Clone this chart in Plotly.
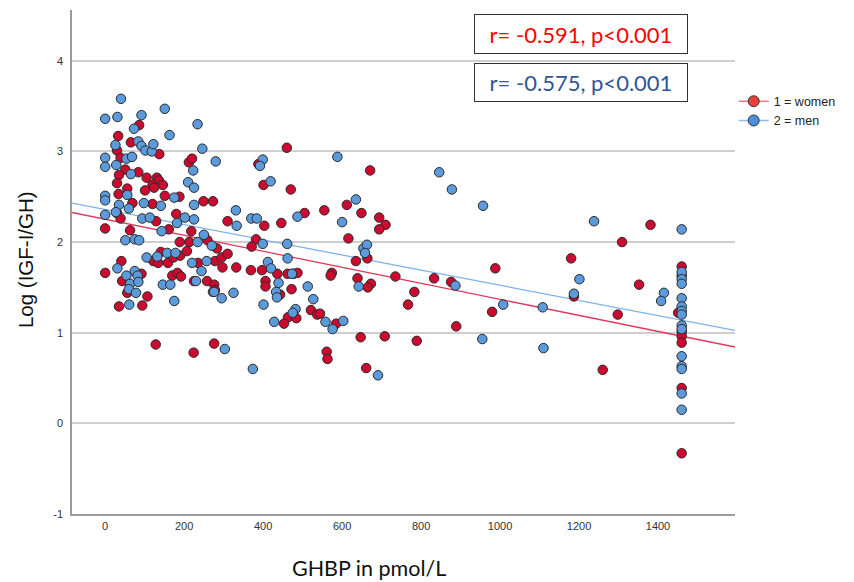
import plotly.graph_objects as go
import numpy as np

# ---- data (GHBP in pmol/L, Log(IGF-I/GH)) ----
women_x = [86, 33, 65, 30, 137, 39, 212, 220, 51, 84, 35, 105, 131, 136, 30, 120, 146, 56, 101, 124,
           34, 151, 188, 69, 120, 249, 273, 30, 39, 129, 180, 0, 63, 161, 218, 189, 213, 259, 122, 134,
           141, 159, 173, 190, 207, 235, 278, 41, 0, 43, 92, 56, 107, 35, 94, 170, 183, 192, 225, 258,
           276, 128, 224, 276, 460, 388, 401, 470, 310, 403, 446, 505, 555, 612, 616, 382, 371, 283, 295, 310,
           297, 332, 369, 397, 436, 462, 477, 487, 574, 571, 406, 406, 472, 443, 278, 521, 537, 463, 484, 453,
           585, 561, 563, 671, 649, 694, 710, 694, 664, 635, 735, 833, 876, 988, 1180, 639, 673, 665, 783, 767,
           980, 544, 889, 647, 708, 789, 661, 1381, 1309, 1187, 1352, 1298, 1451, 1260,
           1460, 1460, 1460, 1460, 1460, 1460, 1460]
women_y = [3.29, 3.17, 3.10, 3.01, 2.97, 2.93, 2.88, 2.92, 2.80, 2.77, 2.74, 2.71, 2.71, 2.68, 2.65, 2.63, 2.63, 2.59, 2.57, 2.60,
           2.53, 2.51, 2.50, 2.43, 2.42, 2.45, 2.45, 2.32, 2.26, 2.23, 2.31, 2.15, 2.13, 2.14, 2.12, 2.00, 2.00, 2.02, 1.79, 1.77,
           1.89, 1.77, 1.83, 1.85, 1.90, 1.77, 1.79, 1.79, 1.66, 1.57, 1.65, 1.44, 1.40, 1.29, 1.30, 1.63, 1.66, 1.62, 1.57, 1.57,
           1.53, 0.87, 0.78, 0.88, 3.04, 2.86, 2.63, 2.58, 2.23, 2.18, 2.21, 2.32, 2.35, 2.41, 2.04, 2.03, 1.95, 1.93, 1.83, 1.87,
           1.72, 1.72, 1.69, 1.69, 1.65, 1.65, 1.65, 1.66, 1.66, 1.63, 1.57, 1.51, 1.48, 1.42, 1.47, 1.25, 1.20, 1.17, 1.16, 1.10,
           1.10, 0.79, 0.71, 2.79, 2.32, 2.27, 2.19, 2.14, 1.82, 1.79, 1.62, 1.60, 1.56, 1.71, 1.82, 1.60, 1.54, 1.50, 1.45, 1.31,
           1.23, 1.21, 1.07, 0.95, 0.96, 0.91, 0.61, 2.19, 2.00, 1.40, 1.53, 1.20, 1.22, 0.59,
           1.73, 1.63, 1.01, 0.96, 0.89, 0.39, -0.33]

men_x = [40, 0, 31, 92, 151, 234, 73, 163, 84, 92, 102, 118, 122, 26, 246, 0, 0, 28, 54, 68,
         280, 223, 65, 210, 225, 0, 0, 56, 175, 35, 98, 141, 225, 0, 27, 60, 94, 113, 143, 182,
         202, 225, 51, 75, 86, 250, 234, 105, 132, 157, 178, 220, 244, 257, 31, 54, 75, 82, 63, 84,
         60, 78, 61, 146, 165, 175, 230, 273, 399, 392, 588, 419, 331, 333, 370, 384, 487, 600, 399, 461,
         462, 270, 412, 420, 473, 439, 513, 433, 435, 527, 276, 295, 325, 401, 482, 475, 428, 558, 576, 603,
         303, 374, 846, 878, 957, 635, 654, 663, 658, 887, 1201, 642, 1008, 1108, 1187, 955, 1110, 691, 1238, 1415,
         1408, 1460, 1460, 1460, 1460, 1460, 1460, 1460, 1460, 1460, 1460, 1460, 1460, 1460, 1460, 1460]
men_y = [3.58, 3.36, 3.38, 3.40, 3.47, 3.30, 3.25, 3.18, 3.11, 3.06, 3.01, 3.00, 3.08, 3.07, 3.03, 2.93, 2.83, 2.85, 2.92, 2.94,
         2.89, 2.79, 2.75, 2.66, 2.60, 2.51, 2.46, 2.52, 2.49, 2.41, 2.43, 2.40, 2.41, 2.30, 2.33, 2.37, 2.26, 2.27, 2.12, 2.21,
         2.27, 2.25, 2.02, 2.03, 2.02, 2.08, 2.00, 1.83, 1.84, 1.88, 1.88, 1.77, 1.68, 1.79, 1.71, 1.63, 1.68, 1.63, 1.54, 1.56,
         1.48, 1.44, 1.31, 1.53, 1.53, 1.35, 1.57, 1.45, 2.91, 2.84, 2.94, 2.67, 2.35, 2.18, 2.26, 2.26, 2.28, 2.22, 1.98, 1.98,
         1.82, 1.96, 1.78, 1.71, 1.65, 1.55, 1.51, 1.45, 1.39, 1.37, 1.45, 1.38, 1.44, 1.31, 1.26, 1.22, 1.12, 1.12, 1.04, 1.13,
         0.82, 0.60, 2.77, 2.58, 2.40, 2.47, 1.93, 1.97, 1.88, 1.52, 1.59, 1.51, 1.31, 1.28, 1.43, 0.93, 0.83, 0.53, 2.23, 1.44,
         1.35, 2.14, 1.67, 1.59, 1.54, 1.38, 1.29, 1.24, 1.20, 1.08, 1.04, 0.74, 0.63, 0.60, 0.33, 0.15]

# linear fits (intercept, slope)
women_fit = (2.252, -0.000884)
men_fit = (2.359, -0.000836)

x_range = [-84, 1595]
y_range = [-1, 4.56]
y_ticks = [-1, 0, 1, 2, 3, 4]
y_tick_labels = ["-1", "0", "1", "2", "3", "4"]
x_ticks = [0, 200, 400, 600, 800, 1000, 1200, 1400]

women_label = "1 = women"
men_label = "2 = men"
women_stat = "r= -0.591, p<0.001"
men_stat = "r= -0.575, p<0.001"

RED = "#cc0a2f"
BLUE = "#5b9bdb"
RED_LINE = "#e0385c"
BLUE_LINE = "#7eb3ea"

fig = go.Figure()

xl = np.array(x_range, dtype=float)
fig.add_trace(go.Scatter(x=xl, y=women_fit[0] + women_fit[1] * xl, mode="lines",
                         line=dict(color=RED_LINE, width=1.3), showlegend=False, hoverinfo="skip"))
fig.add_trace(go.Scatter(x=xl, y=men_fit[0] + men_fit[1] * xl, mode="lines",
                         line=dict(color=BLUE_LINE, width=1.3), showlegend=False, hoverinfo="skip"))

fig.add_trace(go.Scatter(x=women_x, y=women_y, mode="markers", showlegend=False,
                         marker=dict(color=RED, size=9.5, line=dict(color="#2a2a2a", width=1))))
fig.add_trace(go.Scatter(x=men_x, y=men_y, mode="markers", showlegend=False,
                         marker=dict(color=BLUE, size=9.5, line=dict(color="#2a2a2a", width=1))))

# legend entries
fig.add_trace(go.Scatter(x=[None], y=[None], mode="lines+markers", name=women_label,
                         line=dict(color="#f08080", width=1.3),
                         marker=dict(color="#e8413c", size=11, line=dict(color="#333", width=1))))
fig.add_trace(go.Scatter(x=[None], y=[None], mode="lines+markers", name=men_label,
                         line=dict(color="#8fbbe8", width=1.3),
                         marker=dict(color="#4a8fdc", size=11, line=dict(color="#333", width=1))))

# the page body adds an 8 px offset, so the figure is 8 px smaller in each direction
fig.update_layout(
    width=846, height=574,
    margin=dict(l=64, r=119, t=2, b=68),
    paper_bgcolor="white", plot_bgcolor="white",
    font=dict(family="Liberation Sans, Arial, sans-serif", color="#333"),
    legend=dict(x=0.998, y=0.848, xanchor="left", yanchor="top",
                font=dict(size=12.5, color="#222"), bgcolor="rgba(0,0,0,0)",
                tracegroupgap=0, itemwidth=30),
    xaxis=dict(range=x_range, tickvals=x_ticks, showgrid=False, zeroline=False,
               showline=True, linecolor="#9a9a9a", linewidth=1.5,
               ticks="outside", ticklen=1, tickcolor="rgba(0,0,0,0)",
               tickfont=dict(size=11, color="#333")),
    yaxis=dict(range=y_range, tickvals=y_ticks, ticktext=y_tick_labels,
               showgrid=True, gridcolor="#cfcfcf", gridwidth=1.5,
               zeroline=False, showline=True, linecolor="#9a9a9a", linewidth=1.5,
               ticks="outside", ticklen=5, tickcolor="rgba(0,0,0,0)",
               tickfont=dict(size=11, color="#333")),
    annotations=[
        dict(text="Log (IGF-I/GH)", xref="paper", yref="paper", x=-0.070, y=0.505,
             xanchor="center", yanchor="middle", textangle=-90, showarrow=False,
             font=dict(family="Liberation Sans, Arial", size=20.5, color="#111")),
        dict(text="GHBP in pmol/L", xref="paper", yref="paper", x=0.448, y=-0.107,
             xanchor="center", yanchor="middle", showarrow=False,
             font=dict(family="Lato, Open Sans", size=21.5, color="#111")),
        dict(text=women_stat, xref="paper", yref="paper", x=0.768, y=0.953,
             xanchor="center", yanchor="middle", showarrow=False, width=208, height=34,
             bordercolor="#333", borderwidth=1, borderpad=2, bgcolor="white",
             font=dict(family="Lato, Open Sans", size=22, color="#ff0000")),
        dict(text=men_stat, xref="paper", yref="paper", x=0.768, y=0.856,
             xanchor="center", yanchor="middle", showarrow=False, width=208, height=33,
             bordercolor="#333", borderwidth=1, borderpad=2, bgcolor="white",
             font=dict(family="Lato, Open Sans", size=22, color="#2f5597")),
    ],
)

fig.write_html("out.html")
